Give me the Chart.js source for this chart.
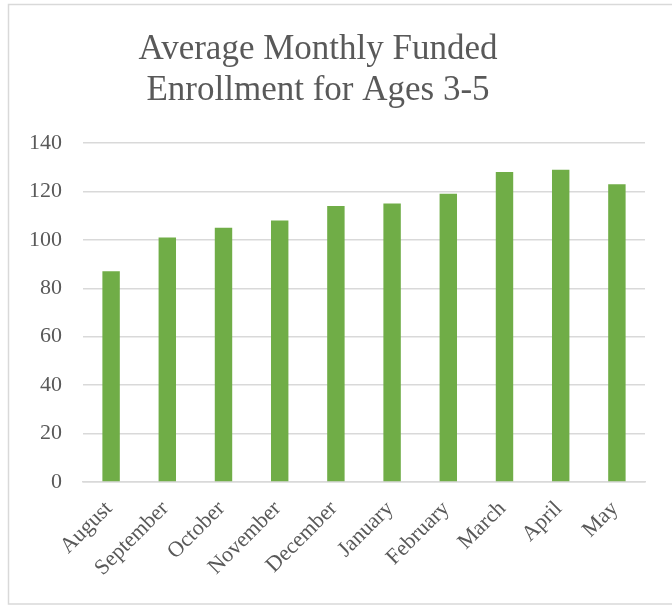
<!DOCTYPE html>
<html>
<head>
<meta charset="utf-8">
<script src="https://cdn.jsdelivr.net/npm/chart.js@4"></script>
<style>
  html, body { margin: 0; padding: 0; background: #fff; }
  #wrap { width: 672px; height: 605px; }
</style>
</head>
<body>
<div id="wrap"><canvas id="enrollChart" width="672" height="605"></canvas></div>
<script>
  'use strict'
  const months = ['August', 'September', 'October', 'November', 'December',
    'January', 'February', 'March', 'April', 'May']
  const enrollment = [87, 101, 105, 108, 114, 115, 119, 128, 129, 123]
  const titleLines = ['Average Monthly Funded', 'Enrollment for Ages 3-5']

  const textGrey = '#595959'
  const gridGrey = '#D9D9D9'
  const serif = "'Liberation Serif', 'Times New Roman', serif"

  // frame round the chart plus the two-line title
  const frameAndTitle = {
    id: 'frameAndTitle',
    beforeDraw (chart) {
      const ctx = chart.ctx
      ctx.save()
      ctx.strokeStyle = gridGrey
      ctx.lineWidth = 1.5
      ctx.strokeRect(8.5, 4.5, 700, 599.5)
      ctx.restore()
    },
    afterDraw (chart) {
      const ctx = chart.ctx
      ctx.save()
      ctx.fillStyle = textGrey
      ctx.font = '35px ' + serif
      ctx.textAlign = 'center'
      ctx.textBaseline = 'alphabetic'
      ctx.fillText(titleLines[0], 318, 59)
      ctx.fillText(titleLines[1], 318, 100)
      ctx.restore()
    }
  }

  const ctx = document.getElementById('enrollChart').getContext('2d')
  const chart = new Chart(ctx, {
    type: 'bar',
    data: {
      labels: months,
      datasets: [
        {
          label: 'Enrollment',
          backgroundColor: '#70AD47',
          borderWidth: 0,
          barPercentage: 0.31,
          categoryPercentage: 1,
          data: enrollment
        }
      ]
    },
    options: {
      responsive: false,
      animation: false,
      layout: {
        padding: { left: 0, right: 27, top: 143, bottom: 0 }
      },
      plugins: {
        legend: { display: false },
        title: { display: false },
        tooltip: { enabled: false }
      },
      scales: {
        x: {
          grid: { display: false },
          border: { display: true, color: gridGrey, width: 1.5 },
          ticks: {
            color: textGrey,
            font: { family: serif, size: 22 },
            minRotation: 45,
            maxRotation: 45,
            padding: 6,
            labelOffset: -2
          },
          afterFit (scale) { scale.height = 123 }
        },
        y: {
          min: 0,
          max: 140,
          grid: { color: gridGrey, lineWidth: 1.5, drawTicks: false },
          border: { display: false },
          ticks: {
            stepSize: 20,
            color: textGrey,
            font: { family: serif, size: 22 },
            padding: 21
          },
          afterFit (scale) { scale.width = 83 }
        }
      }
    },
    plugins: [frameAndTitle]
  })
</script>
</body>
</html>
